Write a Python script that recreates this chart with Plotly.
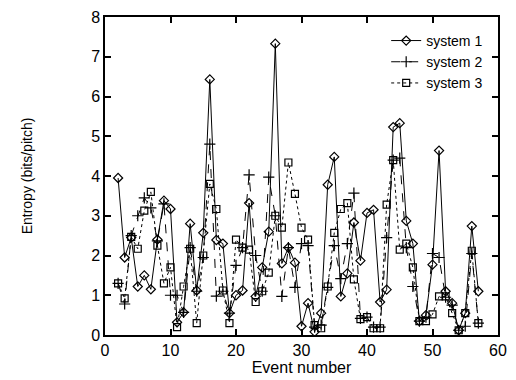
import plotly.graph_objects as go

events = list(range(2, 58))

system1 = [3.95, 1.95, 2.45, 1.22, 1.5, 1.15, 2.4, 3.38, 3.17, 0.32,
           0.57, 2.8, 1.12, 2.57, 6.43, 2.39, 2.3, 0.55, 1.0, 1.12,
           3.32, 0.97, 1.7, 2.6, 7.33, 1.8, 2.2, 1.82, 0.22, 0.8,
           0.08, 0.55, 3.78, 4.48, 0.97, 1.55, 2.83, 1.87, 3.07, 3.15,
           0.83, 1.14, 5.23, 5.33, 2.87, 2.3, 0.35, 0.5, 1.77, 4.64,
           1.1, 0.8, 0.12, 0.55, 2.74, 1.1]

system2 = [1.3, 0.78, 2.5, 3.0, 3.45, 3.2, 2.37, 3.3, 1.0, 1.0,
           0.57, 2.2, 1.1, 1.95, 4.8, 0.98, 1.1, 0.55, 1.75, 2.2,
           4.03, 2.0, 1.1, 3.97, 3.0, 0.97, 2.2, 1.2, 2.3, 2.25,
           0.2, 0.25, 1.2, 2.25, 1.42, 2.3, 3.57, 0.42, 0.45, 0.2,
           0.2, 2.45, 4.4, 4.45, 2.2, 1.22, 0.35, 0.45, 2.05, 1.95,
           0.95, 0.75, 0.12, 0.22, 2.05, 0.3]

system3 = [1.3, 0.92, 2.47, 2.17, 3.13, 3.6, 2.25, 1.3, 1.7, 0.2,
           1.22, 2.17, 0.3, 2.0, 3.8, 3.17, 1.12, 0.3, 2.4, 2.2,
           2.15, 0.83, 1.1, 1.57, 3.0, 2.7, 4.34, 3.55, 2.7, 2.4,
           0.25, 0.17, 1.22, 2.57, 3.17, 3.32, 1.4, 0.4, 0.45, 0.17,
           0.17, 3.28, 4.4, 2.15, 2.3, 1.7, 0.35, 0.35, 0.52, 0.97,
           0.97, 0.55, 0.12, 0.55, 2.12, 0.3]

x_ticks = [0, 10, 20, 30, 40, 50, 60]
y_ticks = [0, 1, 2, 3, 4, 5, 6, 7, 8]

fig = go.Figure()
fig.add_trace(go.Scatter(x=events, y=system1, name="system 1", mode="lines+markers",
                         line=dict(color="black", width=1, dash="solid"),
                         marker=dict(symbol="diamond-open", size=7, color="black", line=dict(width=1.2))))
fig.add_trace(go.Scatter(x=events, y=system2, name="system 2", mode="lines+markers",
                         line=dict(color="black", width=1, dash="dash"),
                         marker=dict(symbol="cross-thin-open", size=8, color="black", line=dict(width=1.2, color="black"))))
fig.add_trace(go.Scatter(x=events, y=system3, name="system 3", mode="lines+markers",
                         line=dict(color="black", width=1, dash="dot"),
                         marker=dict(symbol="square-open", size=7, color="black", line=dict(width=1.2))))

axis_common = dict(showgrid=False, zeroline=False, showline=True, linecolor="black", linewidth=1.5,
                   mirror="ticks", ticks="inside", ticklen=6, tickcolor="black", tickwidth=1.5,
                   tickfont=dict(size=16, color="black"))

fig.update_layout(
    width=516, height=380,
    margin=dict(l=105, r=9, t=14, b=45),
    paper_bgcolor="white", plot_bgcolor="white",
    font=dict(family="Liberation Sans, Arial, sans-serif", color="black", size=16),
    xaxis=dict(range=[0, 60], tickvals=x_ticks, title=dict(text="Event number", standoff=1, font=dict(size=16)), **axis_common),
    yaxis=dict(range=[0, 8], tickvals=y_ticks, title=dict(text="Entropy (bits/pitch)", standoff=55, font=dict(size=14)), **axis_common),
    legend=dict(x=0.975, y=0.975, xanchor="right", yanchor="top", bgcolor="rgba(0,0,0,0)",
                font=dict(size=14), tracegroupgap=0, itemwidth=30),
    showlegend=True,
)

fig.write_html("out.html", config={"displayModeBar": False},
               post_script="document.body.style.margin='0';document.body.style.overflow='hidden';")
